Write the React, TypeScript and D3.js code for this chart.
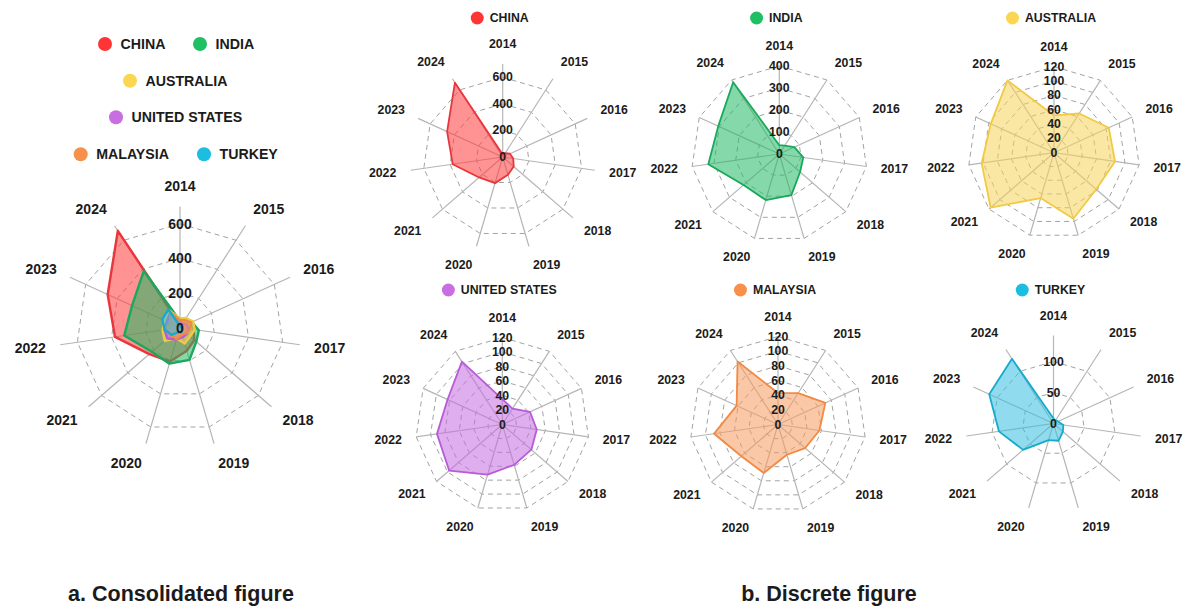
import React from "react";
import * as d3 from "d3";

// Installed capacity by year, one series per country
const YEARS = ["2014", "2015", "2016", "2017", "2018", "2019", "2020", "2021", "2022", "2023", "2024"];
const CHINA = [18, 35, 60, 80, 110, 140, 205, 235, 380, 460, 665];
const INDIA = [40, 45, 75, 110, 125, 195, 218, 215, 326, 305, 388];
const AUSTRALIA = [52, 65, 84, 86, 78, 96, 66, 117, 102, 97, 120];
const UNITED_STATES = [35, 26, 42, 48, 53, 58, 72, 97, 91, 83, 103];
const MALAYSIA = [43, 51, 71, 57, 49, 43, 69, 66, 88, 62, 102];
const TURKEY = [8, 6, 8, 16, 20, 29, 28, 65, 89, 114, 124];

const COUNTRY_NAMES = ["CHINA", "INDIA", "AUSTRALIA", "UNITED STATES", "MALAYSIA", "TURKEY"];
const SERIES = [CHINA, INDIA, AUSTRALIA, UNITED_STATES, MALAYSIA, TURKEY];

const STROKES = ["#e8363b", "#1aa85c", "#f1ca45", "#b75bd8", "#f08a45", "#18aacd"];
const FILLS = ["#ff3b3b", "#1fb863", "#f7d35a", "#c46be0", "#f59a5c", "#35bddf"];
const DOTS = ["#ff3434", "#1fbf63", "#fbd653", "#c86ee0", "#f7904a", "#1bbde0"];

const FONT = '"Liberation Sans", Arial, sans-serif';
const INK = "#1b1b1b";

type Radar = {
  cx: number;
  cy: number;
  len: number;
  max: number;
  ticks: number[];
  fs: number;
};

const measureCtx = (() => {
  if (typeof document === "undefined") return null;
  const c = document.createElement("canvas");
  return c.getContext("2d");
})();

function textWidth(t: string, size: number) {
  if (!measureCtx) return t.length * size * 0.65;
  measureCtx.font = `bold ${size}px ${FONT}`;
  return measureCtx.measureText(t).width;
}

const angle = d3
  .scalePoint<string>()
  .domain(YEARS)
  .range([0, (2 * Math.PI * (YEARS.length - 1)) / YEARS.length]);

function RadarGrid({ cfg }: { cfg: Radar }) {
  const r = d3.scaleLinear().domain([0, cfg.max]).range([0, cfg.len]);
  const ring = d3
    .lineRadial<string>()
    .angle((y) => angle(y)!)
    .curve(d3.curveLinearClosed);
  const labelR = cfg.len + 14.5;
  const hh = cfg.fs * 0.42;
  return (
    <g>
      {cfg.ticks
        .filter((t) => t > 0)
        .map((t) => (
          <path
            key={t}
            d={ring.radius(r(t))(YEARS) || ""}
            transform={`translate(${cfg.cx},${cfg.cy})`}
            fill="none"
            stroke="#a3a3a3"
            strokeWidth={1}
            strokeDasharray="5,4"
          />
        ))}
      {YEARS.map((y) => {
        const a = angle(y)!;
        const sx = Math.sin(a);
        const sy = -Math.cos(a);
        return (
          <line
            key={y}
            x1={cfg.cx}
            y1={cfg.cy}
            x2={cfg.cx + cfg.len * sx}
            y2={cfg.cy + cfg.len * sy}
            stroke="#b5b5b5"
            strokeWidth={1.2}
          />
        );
      })}
      {YEARS.map((y) => {
        const a = angle(y)!;
        const sx = Math.sin(a);
        const sy = -Math.cos(a);
        const anchor = Math.abs(sx) < 0.05 ? "middle" : sx > 0 ? "start" : "end";
        return (
          <text
            key={y}
            x={cfg.cx + labelR * sx}
            y={cfg.cy + (labelR + hh) * sy}
            textAnchor={anchor}
            dominantBaseline="central"
            fontFamily={FONT}
            fontWeight="bold"
            fontSize={cfg.fs}
            fill={INK}
          >
            {y}
          </text>
        );
      })}
    </g>
  );
}

function RadarTicks({ cfg }: { cfg: Radar }) {
  const r = d3.scaleLinear().domain([0, cfg.max]).range([0, cfg.len]);
  return (
    <g>
      {cfg.ticks.map((t) => (
        <text
          key={t}
          x={cfg.cx}
          y={cfg.cy - r(t)}
          textAnchor="middle"
          dominantBaseline="central"
          fontFamily={FONT}
          fontWeight="bold"
          fontSize={cfg.fs}
          fill={INK}
        >
          {t}
        </text>
      ))}
    </g>
  );
}

function RadarArea({ cfg, values, i, sw }: { cfg: Radar; values: number[]; i: number; sw: number }) {
  const r = d3.scaleLinear().domain([0, cfg.max]).range([0, cfg.len]);
  const area = d3
    .lineRadial<number>()
    .angle((_, k) => angle(YEARS[k])!)
    .radius((v) => r(v))
    .curve(d3.curveLinearClosed);
  return (
    <path
      d={area(values) || ""}
      transform={`translate(${cfg.cx},${cfg.cy})`}
      fill={FILLS[i]}
      fillOpacity={0.55}
      stroke={STROKES[i]}
      strokeWidth={sw}
      strokeLinejoin="round"
    />
  );
}

function LegendItem({ x, y, i, size, rad, gap }: { x: number; y: number; i: number; size: number; rad: number; gap: number }) {
  return (
    <g>
      <circle cx={x} cy={y} r={rad} fill={DOTS[i]} />
      <text
        x={x + rad + gap}
        y={y}
        dominantBaseline="central"
        fontFamily={FONT}
        fontWeight="bold"
        fontSize={size}
        fill={INK}
      >
        {COUNTRY_NAMES[i]}
      </text>
    </g>
  );
}

// Overlay chart
const CONSOLIDATED: Radar = { cx: 180, cy: 327.5, len: 121, max: 700, ticks: [0, 200, 400, 600], fs: 14 };

// Small multiples, one per country
const DISCRETE: Radar[] = [
  { cx: 502.7, cy: 157, len: 93, max: 700, ticks: [0, 200, 400, 600], fs: 12.3 },
  { cx: 779.3, cy: 154, len: 88, max: 400, ticks: [0, 100, 200, 300, 400], fs: 12.3 },
  { cx: 1054, cy: 152.7, len: 86, max: 120, ticks: [0, 20, 40, 60, 80, 100, 120], fs: 12.3 },
  { cx: 502.3, cy: 424.5, len: 87, max: 120, ticks: [0, 20, 40, 60, 80, 100, 120], fs: 12.3 },
  { cx: 778, cy: 424.5, len: 88, max: 120, ticks: [0, 20, 40, 60, 80, 100, 120], fs: 12.3 },
  { cx: 1053.5, cy: 423.5, len: 88, max: 142, ticks: [0, 50, 100], fs: 12.3 },
];
const DISCRETE_LEGEND_Y = [18, 18, 18, 290, 290, 290];

// Consolidated legend rows: [series index, dot x]
const LEGEND_ROWS: { y: number; items: [number, number][] }[] = [
  { y: 44, items: [[0, 105], [1, 200]] },
  { y: 80.7, items: [[2, 130]] },
  { y: 117.3, items: [[3, 116]] },
  { y: 154.3, items: [[4, 80.7], [5, 204]] },
];

export default function App() {
  return (
    <svg
      width={1189}
      height={610}
      viewBox="0 0 1189 610"
      style={{ position: "absolute", left: 0, top: 0, background: "#fff" }}
    >
      <rect width={1189} height={610} fill="#fff" />

      {/* a. consolidated */}
      <RadarGrid cfg={CONSOLIDATED} />
      {SERIES.map((s, i) => (
        <RadarArea key={i} cfg={CONSOLIDATED} values={s} i={i} sw={2.4} />
      ))}
      <RadarTicks cfg={CONSOLIDATED} />
      {LEGEND_ROWS.map((row) =>
        row.items.map(([i, x]) => <LegendItem key={i} x={x} y={row.y} i={i} size={14.2} rad={7} gap={8.5} />)
      )}

      {/* b. discrete */}
      {DISCRETE.map((cfg, i) => {
        const tw = textWidth(COUNTRY_NAMES[i], 12.3);
        const total = 13 + 6 + tw;
        const dotX = cfg.cx - 3 - total / 2 + 6.5;
        return (
          <g key={i}>
            <RadarGrid cfg={cfg} />
            <RadarArea cfg={cfg} values={SERIES[i]} i={i} sw={1.8} />
            <RadarTicks cfg={cfg} />
            <LegendItem x={dotX} y={DISCRETE_LEGEND_Y[i]} i={i} size={12.3} rad={6.5} gap={6} />
          </g>
        );
      })}

      <text x={181} y={601} textAnchor="middle" fontFamily={FONT} fontWeight="bold" fontSize={21.5} fill={INK}>
        a. Consolidated figure
      </text>
      <text x={829} y={601} textAnchor="middle" fontFamily={FONT} fontWeight="bold" fontSize={21.5} fill={INK}>
        b. Discrete figure
      </text>
    </svg>
  );
}
